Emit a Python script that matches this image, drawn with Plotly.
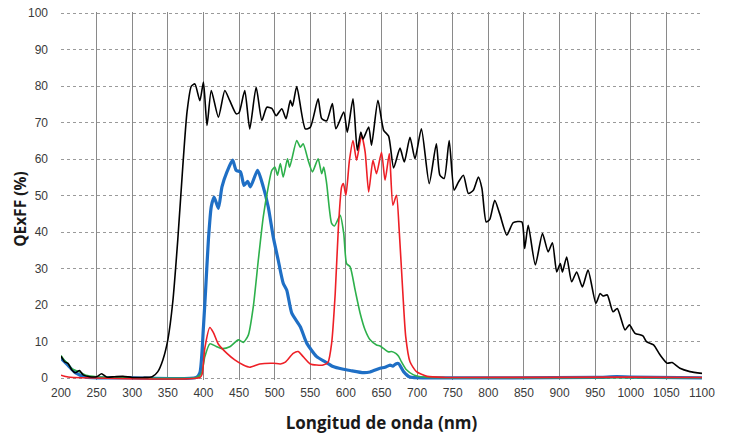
import plotly.graph_objects as go

# ---------- data ----------
black_x = [200, 205, 210, 215, 220, 226, 231, 240, 250, 257, 264, 275, 287, 300, 315, 328, 336, 343, 350, 357,
           364, 371, 377, 383, 388, 395, 400, 405, 411, 421, 430, 437, 446, 450, 458, 465, 474, 482, 489, 496,
           502, 510, 516, 522, 525, 531, 543, 550, 561, 566, 573, 581, 586, 597, 602, 610, 616, 621, 624, 632,
           636, 645, 653, 660, 667, 676, 682, 690, 697, 706, 717, 727, 732, 738, 745, 752, 758, 765, 772, 779,
           786, 791, 797, 802, 809, 816, 826, 835, 847, 851, 856, 866, 876, 884, 890, 896, 901, 904, 910, 917,
           924, 932, 940, 951, 957, 961, 967, 975, 981, 992, 998, 1006, 1017, 1022, 1032, 1041, 1051, 1058,
           1069, 1083, 1100]
black_y = [6.0, 4.5, 4.0, 2.3, 1.5, 2.1, 0.9, 0.4, 0.4, 1.2, 0.3, 0.4, 0.5, 0.2, 0.2, 0.4, 1.8, 5.0, 10.5, 21,
           38, 58, 73, 80, 80.6, 76, 81.1, 69.2, 78.8, 71.5, 78.8, 76, 72.4, 72.7, 78.8, 68.3, 79.7, 70.6, 74.2, 73.9,
           71.9, 73.8, 71.1, 76.1, 74.5, 79.9, 68.3, 68.7, 76.5, 71.1, 70.5, 75.2, 68.3, 72.9, 67.4, 76.5, 62.4, 67.4, 65.5, 68.8,
           63.8, 76.1, 67.9, 66.3, 57.6, 63.0, 59.2, 66, 60.1, 68.3, 53.3, 64.2, 55.6, 54.7, 65.1, 51.5, 53.7, 55.6, 50.6, 51.5,
           55.1, 52, 42.8, 43.5, 48.7, 45, 39.2, 42.6, 42.8, 35.5, 41.9, 31, 39.6, 34.6, 37.1, 29.1, 31.4, 29.1, 33.2, 26.4,
           29.1, 25, 29.6, 20.5, 23.2, 22.5, 22.8, 18.2, 19.1, 13.2, 14.6, 12.3, 11.6, 10, 9.1, 6.4, 4.1, 4.3,
           2.7, 1.8, 1.3]

blue_x = [200, 210, 220, 235, 300, 390, 395, 400, 403, 407, 411, 415, 421, 426, 433, 441, 446, 452, 457, 462,
          466, 476, 484, 491, 498, 505, 512, 517, 524, 536, 545, 559, 571, 582, 595, 606, 625, 634, 648, 655,
          662, 666, 670, 674, 681, 690, 720, 950, 980, 1000, 1100]
blue_y = [5.5, 3.5, 1.5, 0.3, 0.1, 0.2, 1.5, 14, 24, 38, 47, 49.6, 46.5, 52.4, 56.5, 59.7, 56.9, 56.5, 52.8, 53.9,
          52.4, 56.9, 52.4, 46.9, 38.7, 32.3, 26, 24.1, 17.8, 14.1, 9.6, 5.9, 4.5, 3.2, 2.5, 2.1, 1.5, 1.7, 2.7, 3.0,
          3.6, 3.3, 3.9, 4.0, 1.8, 0.3, 0.1, 0.2, 0.4, 0.3, 0.1]

green_x = [200, 205, 210, 215, 225, 235, 250, 300, 390, 397, 402, 409, 418, 426, 437, 449, 456, 463, 470, 477,
           484, 491, 496, 500.5, 504, 508, 512, 518, 521, 531, 536, 540, 547, 553, 561, 566, 569, 573, 580, 584,
           592, 597, 601, 606, 613, 620, 627, 634, 643, 648, 655, 660, 664, 670, 674, 678, 685, 695, 710, 750, 1100]
green_y = [6.2, 4.8, 4.0, 2.6, 1.8, 0.8, 0.4, 0.1, 0.2, 1.2, 5.9, 9.4, 8.7, 8.1, 8.6, 10.5, 9.8, 11.8, 19.6, 32.3,
           44.2, 52.4, 56.9, 57.8, 55.6, 58.8, 55.1, 60.1, 57.8, 65.1, 63.3, 64.2, 59.7, 56.5, 60.1, 56, 57.8, 53.3, 42.4, 41.7,
           44.6, 39.6, 31.4, 30.5, 24.1, 17.8, 13.2, 10.5, 9.1, 8.8, 7.8, 7.2, 7.3, 6.8, 6.0, 4.5, 2.3, 0.9, 0.3, 0.1, 0.1]

red_x = [200, 210, 230, 395, 398, 402, 409, 414, 421, 433, 444, 456, 465, 479, 498, 508, 515, 526, 533, 540,
         550, 559, 568, 575, 580, 585, 589.5, 594, 596.5, 600, 605, 610, 615, 622, 627, 632, 638, 643, 650, 655,
         661, 666, 671, 675, 680, 684, 690, 699, 714, 740, 1000, 1100]
red_y = [0.8, 0.3, 0.1, 0.2, 1.0, 8.3, 13.9, 12.5, 9.3, 6.8, 5.0, 3.6, 3.0, 3.9, 4.1, 3.9, 4.4, 6.8, 7.3, 5.9,
         3.9, 3.6, 3.6, 4.4, 9.6, 23.2, 41.4, 52.4, 53.3, 50.1, 59.7, 65.1, 59.7, 66.5, 62, 51, 59.7, 56, 61.9, 54.2,
         61.5, 47.4, 50.1, 40, 23.2, 11.4, 4.5, 1.8, 0.5, 0.2, 0.3, 0.2]

x_ticks = list(range(200, 1101, 50))
y_ticks = list(range(0, 101, 10))

# ---------- figure ----------
fig = go.Figure()
series = [
    (blue_x, blue_y, "#1f6fc5", 3.2),
    (green_x, green_y, "#2db04b", 1.6),
    (red_x, red_y, "#ee1f26", 1.6),
    (black_x, black_y, "#000000", 1.6),
]
for xs, ys, col, w in series:
    fig.add_trace(go.Scatter(x=xs, y=ys, mode="lines",
                             line=dict(color=col, width=w, shape="spline", smoothing=0.6),
                             showlegend=False, hoverinfo="skip"))

tick_font = dict(family="Liberation Sans, Arial, sans-serif", size=12, color="#3a3a3a")
xtitle_font = dict(family="Open Sans, sans-serif", size=17, color="#1a1a1a")
ytitle_font = dict(family="Open Sans, sans-serif", size=15.5, color="#1a1a1a")

# page body has an 8px margin: figure is sized/positioned to compensate
fig.update_layout(
    width=724, height=428,
    margin=dict(l=53, r=30, t=4, b=56, autoexpand=False),
    paper_bgcolor="white", plot_bgcolor="white",
    xaxis=dict(range=[200, 1100], tickvals=x_ticks, ticktext=[str(v) for v in x_ticks],
               showgrid=True, gridcolor="#8a8a8a", gridwidth=1.3, zeroline=False, automargin=False,
               showline=False, ticks="", tickfont=tick_font, ticklabelstandoff=4, ticklabeloverflow="allow",
               title=dict(text="<b>Longitud de onda (nm)</b>", font=xtitle_font, standoff=18)),
    yaxis=dict(range=[-0.5, 100.3], tickvals=y_ticks, ticktext=[str(v) for v in y_ticks],
               showgrid=True, gridcolor="#9a9a9a", gridwidth=1, griddash="dot", zeroline=False, automargin=False,
               showline=False, ticks="", tickfont=tick_font, ticklabelstandoff=12, ticklabeloverflow="allow"),
    annotations=[dict(text="<b>QExFF (%)</b>", font=ytitle_font, textangle=-90,
                      xref="paper", yref="paper", x=-0.064, y=0.465,
                      xanchor="center", yanchor="middle", showarrow=False)],
)

fig.write_html("out.html")
